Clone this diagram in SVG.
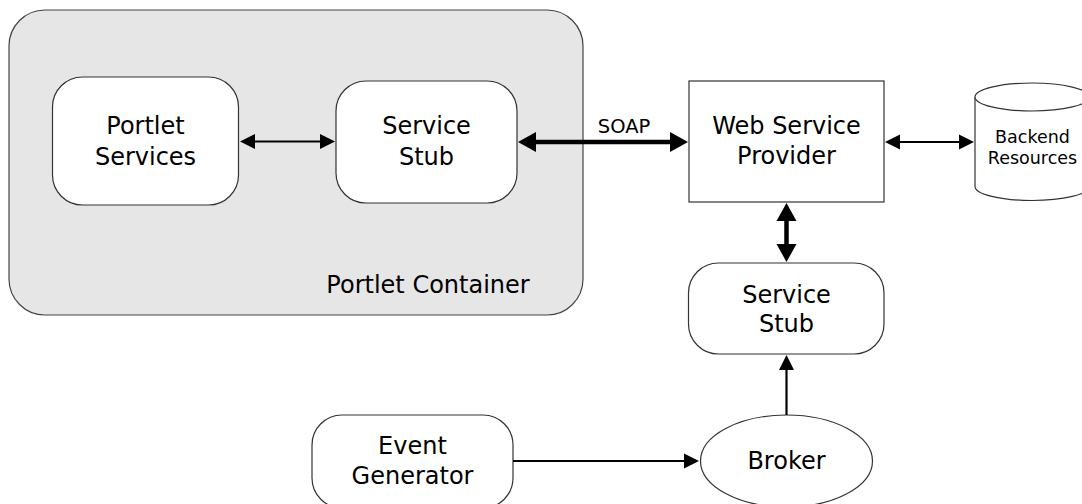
<svg xmlns="http://www.w3.org/2000/svg" width="1082" height="504" viewBox="0 0 1082 504">
<style>
.box{fill:#fff;stroke:#333;stroke-width:1.2}
.cont{fill:#e6e6e6;stroke:#444;stroke-width:1.2}
text{font-family:"DejaVu Sans",Verdana,sans-serif;font-size:24px;fill:#000;text-anchor:middle}
.small{font-size:17.5px}
.lbl{font-size:19.5px}
.thick{stroke:#000;stroke-width:4.5;fill:none}
.thin{stroke:#000;stroke-width:2.2;fill:none}
</style>
<defs>
<marker id="hb" markerUnits="userSpaceOnUse" viewBox="0 -11 19 22" markerWidth="19" markerHeight="22" refX="1" refY="0" orient="auto-start-reverse"><path d="M0,-10 L18,0 L0,10 z" fill="#000"/></marker>
<marker id="hs" markerUnits="userSpaceOnUse" viewBox="0 -8 16 16" markerWidth="16" markerHeight="16" refX="1" refY="0" orient="auto-start-reverse"><path d="M0,-7.5 L15,0 L0,7.5 z" fill="#000"/></marker>
</defs>
<g id="portlet-container"><rect class="cont" x="9" y="10" width="574" height="305" rx="36"/><text x="428" y="293">Portlet Container</text></g>
<g id="portlet-services"><rect class="box" x="52.5" y="77" width="186" height="128" rx="30"/><text x="145.5" y="134">Portlet</text><text x="145.5" y="165">Services</text></g>
<g id="service-stub-1"><rect class="box" x="336" y="81" width="181" height="122" rx="30"/><text x="426.5" y="134">Service</text><text x="426.5" y="165">Stub</text></g>
<g id="web-service-provider"><rect class="box" x="689" y="81" width="195" height="121"/><text x="786.5" y="134">Web Service</text><text x="786.5" y="164">Provider</text></g>
<g id="backend-resources"><path class="box" d="M975,97 L975,186.5 A57,14 0 0 0 1089,186.5 L1089,97 A57,14 0 0 0 975,97 z"/><path class="box" d="M975,97 A57,14 0 0 0 1089,97" fill="none"/><text class="small" x="1032.5" y="143">Backend</text><text class="small" x="1032.5" y="164">Resources</text></g>
<g id="service-stub-2"><rect class="box" x="688.5" y="263" width="195.5" height="91" rx="30"/><text x="786.5" y="303">Service</text><text x="786.5" y="332">Stub</text></g>
<g id="event-generator"><rect class="box" x="312" y="415" width="201" height="93" rx="30"/><text x="412.5" y="454">Event</text><text x="412.5" y="484">Generator</text></g>
<g id="broker"><ellipse class="box" cx="786.5" cy="461" rx="86" ry="46"/><text x="786.5" y="469">Broker</text></g>
<g id="connectors">
<line class="thin" x1="254" y1="141.5" x2="321" y2="141.5" marker-start="url(#hs)" marker-end="url(#hs)"/>
<line class="thick" x1="535" y1="142" x2="671" y2="142" marker-start="url(#hb)" marker-end="url(#hb)"/>
<text class="lbl" x="624" y="133">SOAP</text>
<line class="thin" x1="899" y1="142" x2="960" y2="142" marker-start="url(#hs)" marker-end="url(#hs)"/>
<line class="thick" x1="786.5" y1="220" x2="786.5" y2="245" marker-start="url(#hb)" marker-end="url(#hb)"/>
<line class="thin" x1="513" y1="461" x2="685" y2="461" marker-end="url(#hs)"/>
<line class="thin" x1="786.5" y1="415" x2="786.5" y2="369" marker-end="url(#hs)"/>
</g>
</svg>
